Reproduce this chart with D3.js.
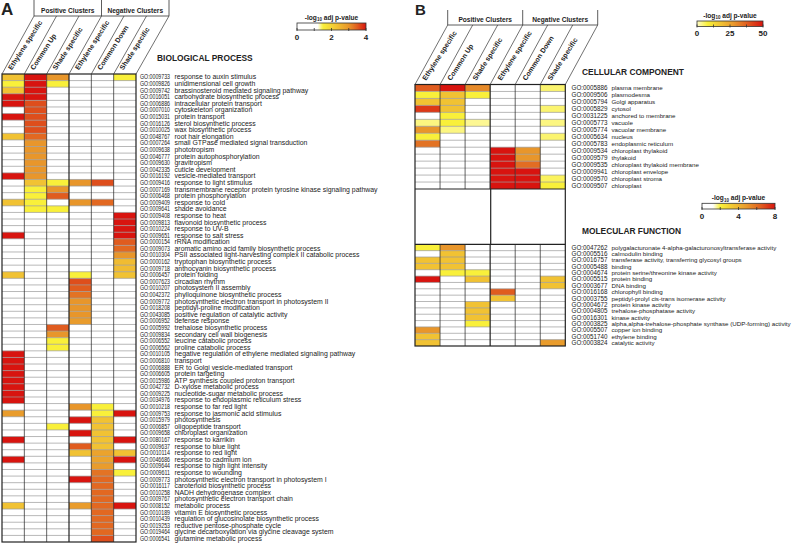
<!DOCTYPE html>
<html>
<head>
<meta charset="utf-8">
<script src="https://cdn.jsdelivr.net/npm/d3@7"></script>
<style>
  body { margin: 0; background: #fff; }
  svg text { font-family: "Liberation Sans", Arial, sans-serif; fill: #222; }
</style>
</head>
<body>
<svg id="chart" width="793" height="555"></svg>
<script>
// column order in both panels
const clusters = ["Ethylene specific", "Common Up", "Shade specific", "Ethylene specific", "Common Down", "Shade specific"];

// ---- panel A: biological process
const bpIds = ["GO:0009733","GO:0009826","GO:0009742","GO:0016051","GO:0006886","GO:0007010","GO:0015031","GO:0016126","GO:0010025","GO:0048767",
  "GO:0007264","GO:0009638","GO:0046777","GO:0009630","GO:0042335","GO:0016192","GO:0009416","GO:0007169","GO:0006468","GO:0009409",
  "GO:0009641","GO:0009408","GO:0009813","GO:0010224","GO:0009651","GO:0000154","GO:0009073","GO:0010304","GO:0000162","GO:0009718",
  "GO:0006457","GO:0007623","GO:0010207","GO:0042372","GO:0009772","GO:0018208","GO:0043085","GO:0006952","GO:0005992","GO:0009834",
  "GO:0006552","GO:0006562","GO:0010105","GO:0006810","GO:0006888","GO:0006605","GO:0015986","GO:0042732","GO:0009225","GO:0034976",
  "GO:0010218","GO:0009753","GO:0015979","GO:0006857","GO:0009658","GO:0080167","GO:0009637","GO:0010114","GO:0046686","GO:0009644",
  "GO:0009611","GO:0009773","GO:0016117","GO:0010258","GO:0009767","GO:0008152","GO:0010189","GO:0010439","GO:0019253","GO:0019464",
  "GO:0006541"];
const bpTerms = ["response to auxin stimulus","unidimensional cell growth","brassinosteroid mediated signaling pathway","carbohydrate biosynthetic process",
  "intracellular protein transport","cytoskeleton organization","protein transport","sterol biosynthetic process","wax biosynthetic process",
  "root hair elongation","small GTPase mediated signal transduction","phototropism","protein autophosphorylation","gravitropism",
  "cuticle development","vesicle-mediated transport","response to light stimulus","transmembrane receptor protein tyrosine kinase signaling pathway",
  "protein phosphorylation","response to cold","shade avoidance","response to heat","flavonoid biosynthetic process","response to UV-B",
  "response to salt stress","rRNA modification","aromatic amino acid family biosynthetic process",
  "PSII associated light-harvesting complex II catabolic process","tryptophan biosynthetic process","anthocyanin biosynthetic process",
  "protein folding","circadian rhythm","photosystem II assembly","phylloquinone biosynthetic process",
  "photosynthetic electron transport in photosystem II","peptidyl-proline modification","positive regulation of catalytic activity",
  "defense response","trehalose biosynthetic process","secondary cell wall biogenesis","leucine catabolic process","proline catabolic process",
  "negative regulation of ethylene mediated signaling pathway","transport","ER to Golgi vesicle-mediated transport","protein targeting",
  "ATP synthesis coupled proton transport","D-xylose metabolic process","nucleotide-sugar metabolic process",
  "response to endoplasmic reticulum stress","response to far red light","response to jasmonic acid stimulus","photosynthesis",
  "oligopeptide transport","chloroplast organization","response to karrikin","response to blue light","response to red light",
  "response to cadmium ion","response to high light intensity","response to wounding",
  "photosynthetic electron transport in photosystem I","carotenoid biosynthetic process","NADH dehydrogenase complex",
  "photosynthetic electron transport chain","metabolic process","vitamin E biosynthetic process",
  "regulation of glucosinolate biosynthetic process","reductive pentose-phosphate cycle",
  "glycine decarboxylation via glycine cleavage system","glutamine metabolic process"];
// -log10 adj p per cluster (Eth+, CommonUp, Shade+, Eth-, CommonDown, Shade-), 0 = not enriched
const bpValues = [
  [2.3,4,3.0,0,0,1.5],[1.5,4,1.5,0,0,0],[2.3,4,0,0,0,0],[4,4,0,0,0,0],[4,3.6,0,0,0,0],
  [0,3.6,0,0,0,0],[4,3.6,0,0,0,0],[0,3.6,0,0,0,0],[0,3.6,0,0,0,0],[2.3,3.4,0,0,0,0],
  [0,3.0,0,0,0,0],[0,3.0,0,0,0,0],[0,3.0,0,0,0,0],[0,3.0,0,0,0,0],[0,3.0,0,0,0,0],
  [4,3.0,0,0,0,0],[0,2.3,1.5,3.0,3.6,0],[0,1.5,3.0,0,0,0],[0,1.5,3.5,0,0,0],[2.3,1.5,0,3.0,3.4,0],
  [0,1.5,1.5,0,0,0],[0,0,0,0,0,4],[0,0,0,0,0,4],[0,0,0,0,0,4],[4,0,0,0,0,4],
  [0,0,0,0,0,3.5],[0,0,0,0,0,3.4],[0,0,0,0,0,3.0],[0,0,0,0,0,2.4],[0,0,0,0,0,2.4],
  [2.3,0,0,1.5,0,2.3],[0,0,0,3.6,0,0],[0,0,0,3.5,0,0],[0,0,0,3.3,0,0],[0,0,0,3.0,0,0],
  [0,0,0,3.0,0,0],[0,0,0,3.0,0,0],[0,0,0,2.9,0,0],[0,0,3.5,0,0,0],[0,0,3.0,0,0,0],
  [0,0,1.5,0,0,0],[0,0,1.5,0,0,0],[4,0,0,0,0,0],[4,0,0,0,0,0],[4,0,0,0,0,0],
  [4,0,0,0,0,0],[4,0,0,0,0,0],[4,0,0,0,0,0],[4,0,0,0,0,0],[4,0,0,0,0,0],
  [0,0,0,3.0,1.5,0],[2.9,0,0,0,1.5,4],[0,0,0,4,2.3,0],[0,0,1.5,0,2.3,0],[0,0,0,4,2.3,0],
  [4,0,0,0,2.3,4],[0,0,0,3.5,2.3,0],[0,0,0,2.3,2.8,2.3],[4,0,0,0,2.8,4],[0,0,0,0,2.9,0],
  [0,0,0,0,3.3,1.5],[0,0,0,4,3.4,0],[0,0,0,0,3.4,0],[0,0,0,0,3.4,0],[0,0,0,0,3.4,0],
  [2.3,0,0,2.9,3.4,4],[0,0,0,0,3.4,0],[0,0,0,0,3.4,0],[0,0,0,0,3.4,0],[0,0,0,0,3.4,0],
  [0,0,0,0,3.6,0]];

// ---- panel B: cellular component
const ccIds = ["GO:0005886","GO:0009506","GO:0005794","GO:0005829","GO:0031225","GO:0005773","GO:0005774","GO:0005634",
  "GO:0005783","GO:0009534","GO:0009579","GO:0009535","GO:0009941","GO:0009570","GO:0009507"];
const ccTerms = ["plasma membrane","plasmodesma","Golgi apparatus","cytosol","anchored to membrane","vacuole","vacuolar membrane",
  "nucleus","endoplasmic reticulum","chloroplast thylakoid","thylakoid","chloroplast thylakoid membrane","chloroplast envelope",
  "chloroplast stroma","chloroplast"];
const ccValues = [
  [38,50,30,0,0,5],[8,18,8,0,0,0],[18,18,0,0,0,0],[44,18,0,0,0,5],[0,8,0,0,0,0],
  [4,8,3,0,0,4],[28,4,0,0,0,0],[8,0,0,0,0,5],[34,0,0,0,0,0],[0,0,0,50,28,0],
  [0,0,0,50,28,0],[0,0,0,50,35,0],[0,0,0,50,50,0],[0,0,0,50,50,6],[0,0,0,50,50,8]];

// ---- panel B: molecular function
const mfIds = ["GO:0047262","GO:0005516","GO:0016757","GO:0005488","GO:0004674","GO:0005515","GO:0003677","GO:0016168",
  "GO:0003755","GO:0004672","GO:0004805","GO:0016301","GO:0003825","GO:0005507","GO:0051740","GO:0003824"];
const mfTerms = ["polygalacturonate 4-alpha-galacturonosyltransferase activity","calmodulin binding",
  "transferase activity, transferring glycosyl groups","binding","protein serine/threonine kinase activity","protein binding",
  "DNA binding","chlorophyll binding","peptidyl-prolyl cis-trans isomerase activity","protein kinase activity",
  "trehalose-phosphatase activity","kinase activity","alpha,alpha-trehalose-phosphate synthase (UDP-forming) activity",
  "copper ion binding","ethylene binding","catalytic activity"];
const mfValues = [
  [2,5,0,0,0,0],[0,3.5,0,0,0,0],[3.5,3.5,0,0,0,0],[3.5,3.5,0,0,0,0],[0,2,2,0,0,0],
  [8,0,3.5,0,0,3.5],[0,0,0,0,0,3.5],[0,0,0,6.5,0,0],[0,0,0,3.5,0,0],[0,0,3.5,0,0,0],
  [0,0,3.5,0,0,0],[0,0,3.5,0,0,0],[0,0,2,0,0,0],[5,0,0,0,0,0],[3.5,0,0,0,0,0],
  [3.5,0,0,0,0,4.8]];

const bpTicks = [0, 2, 4], ccTicks = [0, 25, 50], mfTicks = [0, 4, 8];

// colour scales
const heat = ["#f9f03a", "#f1c233", "#e8962b", "#e05c1f", "#d8140f"];
const colorBP = d3.scaleLinear().domain([0, 1.2, 1.5, 2.3, 3.0, 3.5, 4]).range(["#ffffff", "#ffffff", ...heat]).clamp(true);
const colorCC = d3.scaleLinear().domain([0, 8, 18, 28, 38, 50]).range(["#fffbc8", ...heat]).clamp(true);
const colorMF = d3.scaleLinear().domain([0, 1.2, 2, 3.5, 5, 6.5, 8]).range(["#ffffff", "#ffffff", ...heat]).clamp(true);

const svg = d3.select("#chart");
const defs = svg.append("defs");

function heatBlock(g, x, ids, terms, values, y0, y1, color, lab) {
  const y = d3.scaleBand().domain(ids).range([y0, y1]);
  const cells = [];
  values.forEach((row, i) => row.forEach((v, j) => { if (v > 0) cells.push({ id: ids[i], col: j, v: v }); }));
  g.append("g").selectAll("rect").data(cells).join("rect")
    .attr("x", d => x(d.col)).attr("y", d => y(d.id))
    .attr("width", x.bandwidth()).attr("height", y.bandwidth())
    .attr("fill", d => color(d.v));
  // row separators
  g.append("g").selectAll("line").data(ids.slice(1)).join("line")
    .attr("x1", x.range()[0]).attr("x2", x.range()[1])
    .attr("y1", d => y(d)).attr("y2", d => y(d))
    .attr("stroke", "#9a9a9a").attr("stroke-width", 0.7);
  // column separators
  g.append("g").selectAll("line").data(d3.range(1, 6)).join("line")
    .attr("x1", d => x(d)).attr("x2", d => x(d))
    .attr("y1", y0).attr("y2", y1)
    .attr("stroke", "#222").attr("stroke-width", d => d == 3 ? 1.2 : 0.7);
  const rows = g.append("g").selectAll("g").data(ids).join("g")
    .attr("transform", d => "translate(0," + (y(d) + y.bandwidth() / 2 + 2.2) + ")");
  rows.append("text").attr("x", lab.idX).attr("font-size", lab.idSize)
    .attr("textLength", lab.idLen).attr("lengthAdjust", "spacingAndGlyphs").text(d => d);
  rows.append("text").attr("x", lab.termX).attr("font-size", lab.termSize).text((d, i) => terms[i]);
  return y;
}

function header(g, x, top, boxTop, boxBottom, boxLeft, boxRight) {
  const x0 = x.range()[0], x1 = x.range()[1];
  const hx = d3.scaleLinear().domain([x0, x1]).range([boxLeft, boxRight]);
  const edges = d3.range(7).map(i => x0 + i * x.step());
  g.append("g").selectAll("line").data(edges).join("line")
    .attr("x1", d => d).attr("y1", top).attr("x2", d => hx(d)).attr("y2", boxBottom)
    .attr("stroke", "#333").attr("stroke-width", 0.7);
  const mid = (boxLeft + boxRight) / 2;
  [boxLeft, mid, boxRight].forEach(v => g.append("line")
    .attr("x1", v).attr("x2", v).attr("y1", boxTop).attr("y2", boxBottom)
    .attr("stroke", "#333").attr("stroke-width", 0.8));
  g.append("line").attr("x1", boxLeft).attr("x2", boxRight).attr("y1", boxBottom).attr("y2", boxBottom)
    .attr("stroke", "#333").attr("stroke-width", 0.8);
  g.append("text").attr("x", (boxLeft + mid) / 2).attr("y", boxBottom - 3.5)
    .attr("text-anchor", "middle").attr("font-size", 6.6).attr("font-weight", "bold").text("Positive Clusters");
  g.append("text").attr("x", (mid + boxRight) / 2).attr("y", boxBottom - 3.5)
    .attr("text-anchor", "middle").attr("font-size", 6.6).attr("font-weight", "bold").text("Negative Clusters");
  const ang = Math.atan2(top - boxBottom, hx(x0) - x0) * 180 / Math.PI;
  g.append("g").selectAll("text").data(clusters).join("text")
    .attr("transform", (d, i) => "translate(" + (x(i) + x.bandwidth() / 2 - 1.5) + "," + (top - 3.5) + ") rotate(" + (-ang + 4) + ")")
    .attr("font-size", 7).attr("font-weight", "bold").attr("fill", "#333").text(d => d);
}

function legend(g, id, color, ticks, x0, x1, yb, h) {
  const max = ticks[ticks.length - 1];
  const s = d3.scaleLinear().domain([0, max]).range([x0, x1]);
  const grad = defs.append("linearGradient").attr("id", id);
  d3.range(0, 1.0001, 0.02).forEach(t => grad.append("stop")
    .attr("offset", t).attr("stop-color", color(t * max)));
  const t = g.append("text").attr("x", (x0 + x1) / 2).attr("y", yb - 3.5).attr("text-anchor", "middle")
    .attr("font-size", 6.6).attr("font-weight", "bold");
  t.append("tspan").text("-log");
  t.append("tspan").attr("font-size", 4.5).attr("dy", 1.8).text("10");
  t.append("tspan").attr("dy", -1.8).text(" adj p-value");
  g.append("rect").attr("x", x0).attr("y", yb).attr("width", x1 - x0).attr("height", h)
    .attr("fill", "url(#" + id + ")").attr("stroke", "#333").attr("stroke-width", 0.8);
  const minor = d3.range(5).map(i => i * max / 4);
  g.append("g").selectAll("line").data(minor).join("line")
    .attr("x1", d => s(d)).attr("x2", d => s(d)).attr("y1", yb + h - 2).attr("y2", yb + h + 1)
    .attr("stroke", "#333").attr("stroke-width", 0.8);
  g.append("g").selectAll("text").data(ticks).join("text")
    .attr("x", d => s(d)).attr("y", yb + h + 9.5).attr("text-anchor", "middle")
    .attr("font-size", 8).attr("font-weight", "bold").text(d => d);
}

// ---------- panel A
const gA = svg.append("g");
const xA = d3.scaleBand().domain(d3.range(6)).range([2, 136]);
heatBlock(gA, xA, bpIds, bpTerms, bpValues, 74, 542, colorBP,
  { idX: 140, idSize: 6.4, idLen: 30, termX: 174.5, termSize: 6.9 });
gA.append("rect").attr("x", 2).attr("y", 74).attr("width", 134).attr("height", 468)
  .attr("fill", "none").attr("stroke", "#222").attr("stroke-width", 1.2);
header(gA, xA, 74, 0, 16, 34, 169);
gA.append("text").attr("x", 1).attr("y", 15).attr("font-size", 17).attr("font-weight", "bold").text("A");
gA.append("text").attr("x", 157).attr("y", 60.5).attr("font-size", 8.4).attr("font-weight", "bold").text("BIOLOGICAL PROCESS");
legend(gA, "gradA", colorBP, bpTicks, 297, 366, 23, 7);

// ---------- panel B
const gB = svg.append("g");
const xB = d3.scaleBand().domain(d3.range(6)).range([415, 565.3]);
const labB = { idX: 571.5, idSize: 6.3, idLen: 36, termX: 611.5, termSize: 6.2 };
heatBlock(gB, xB, ccIds, ccTerms, ccValues, 84.5, 189, colorCC, labB);
heatBlock(gB, xB, mfIds, mfTerms, mfValues, 244.3, 346, colorMF, labB);
// outer frame and block separators
gB.append("rect").attr("x", 415).attr("y", 84.5).attr("width", 150.3).attr("height", 261.5)
  .attr("fill", "none").attr("stroke", "#222").attr("stroke-width", 1.2);
gB.append("line").attr("x1", 490.7).attr("x2", 490.7).attr("y1", 189).attr("y2", 244.3).attr("stroke", "#222").attr("stroke-width", 1.2);
[189, 244.3].forEach(v => gB.append("line").attr("x1", 415).attr("x2", 565.3).attr("y1", v).attr("y2", v)
  .attr("stroke", "#222").attr("stroke-width", 1.2));
header(gB, xB, 84.5, 10, 25, 447.7, 597.7);
gB.append("text").attr("x", 415).attr("y", 15).attr("font-size", 15).attr("font-weight", "bold").text("B");
gB.append("text").attr("x", 582).attr("y", 74.5).attr("font-size", 8.4).attr("font-weight", "bold").text("CELLULAR COMPONENT");
gB.append("text").attr("x", 582).attr("y", 233.5).attr("font-size", 8.4).attr("font-weight", "bold").text("MOLECULAR FUNCTION");
legend(gB, "gradCC", colorCC, ccTicks, 697, 763, 21, 5.5);
legend(gB, "gradMF", colorMF, mfTicks, 702, 775, 203.3, 5.7);
</script>
</body>
</html>
